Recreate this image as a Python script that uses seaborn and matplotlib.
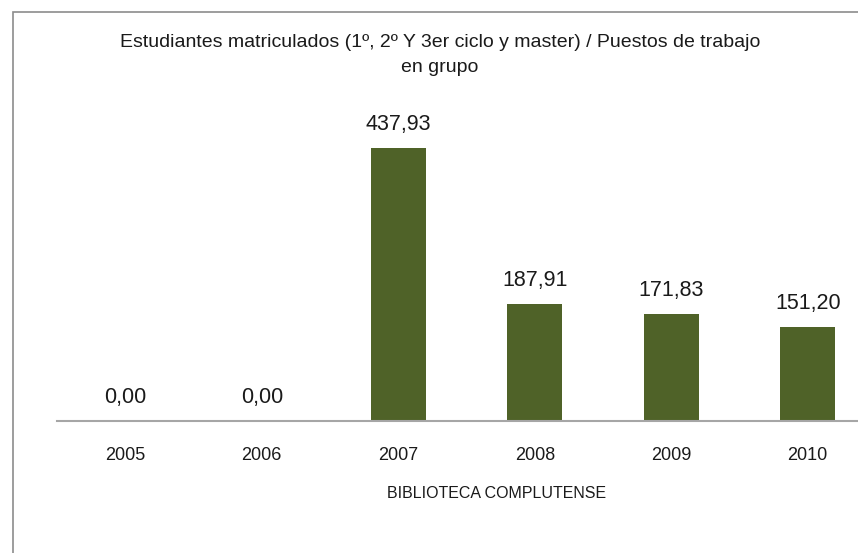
import matplotlib
matplotlib.use("Agg")
import matplotlib.pyplot as plt
import matplotlib.patches as mpatches
import pandas as pd
import seaborn as sns

years = ["2005", "2006", "2007", "2008", "2009", "2010"]
ratios = [0.00, 0.00, 437.93, 187.91, 171.83, 151.20]
title_text = "Estudiantes matriculados (1º, 2º Y 3er ciclo y master) / Puestos de trabajo\nen grupo"
xlabel_text = "BIBLIOTECA COMPLUTENSE"

df = pd.DataFrame({"year": years, "ratio": ratios})

sns.set_theme(style="white")
plt.rcParams["font.family"] = ["Liberation Sans", "DejaVu Sans"]

W, H = 858, 553
fig = plt.figure(figsize=(W / 100, H / 100), dpi=100)
fig.patch.set_facecolor("white")

# plot area: baseline at y=421px, categories span x=57..876px
ax = fig.add_axes([57 / W, (H - 421) / H, 819 / W, 299 / H])
sns.barplot(data=df, x="year", y="ratio", color="#4F6228", width=0.4,
            saturation=1, ax=ax, edgecolor="none")
ax.set_xlim(-0.5, 5.5)
ax.set_ylim(0, 480)

for i, v in enumerate(ratios):
    ax.annotate(f"{v:.2f}".replace(".", ","), (i, v), xytext=(0, 17),
                textcoords="offset points", ha="center", va="center",
                fontsize=15.5, color="#1a1a1a")

for s in ["top", "right", "left"]:
    ax.spines[s].set_visible(False)
ax.spines["bottom"].set_color("#A6A6A6")
ax.spines["bottom"].set_linewidth(1.5)
ax.set_yticks([])
ax.set_ylabel("")
ax.set_xlabel("")
ax.tick_params(axis="x", length=0, pad=19, labelsize=13, colors="#1a1a1a")

fig.text(497 / W, 1 - 494 / H, xlabel_text, ha="center", va="center",
         fontsize=11.5, color="#1a1a1a")
fig.text(440 / W, 1 - 55 / H, title_text, ha="center", va="center",
         fontsize=14, color="#1a1a1a", linespacing=1.6)

# chart-area border (cropped on right and bottom)
frame = mpatches.Rectangle((13 / W, -0.1), 1.2, 1 - 12 / H + 0.1,
                           transform=fig.transFigure, fill=False,
                           edgecolor="#8C8C8C", linewidth=1.2)
fig.add_artist(frame)

fig.savefig("out.png", dpi=100)
